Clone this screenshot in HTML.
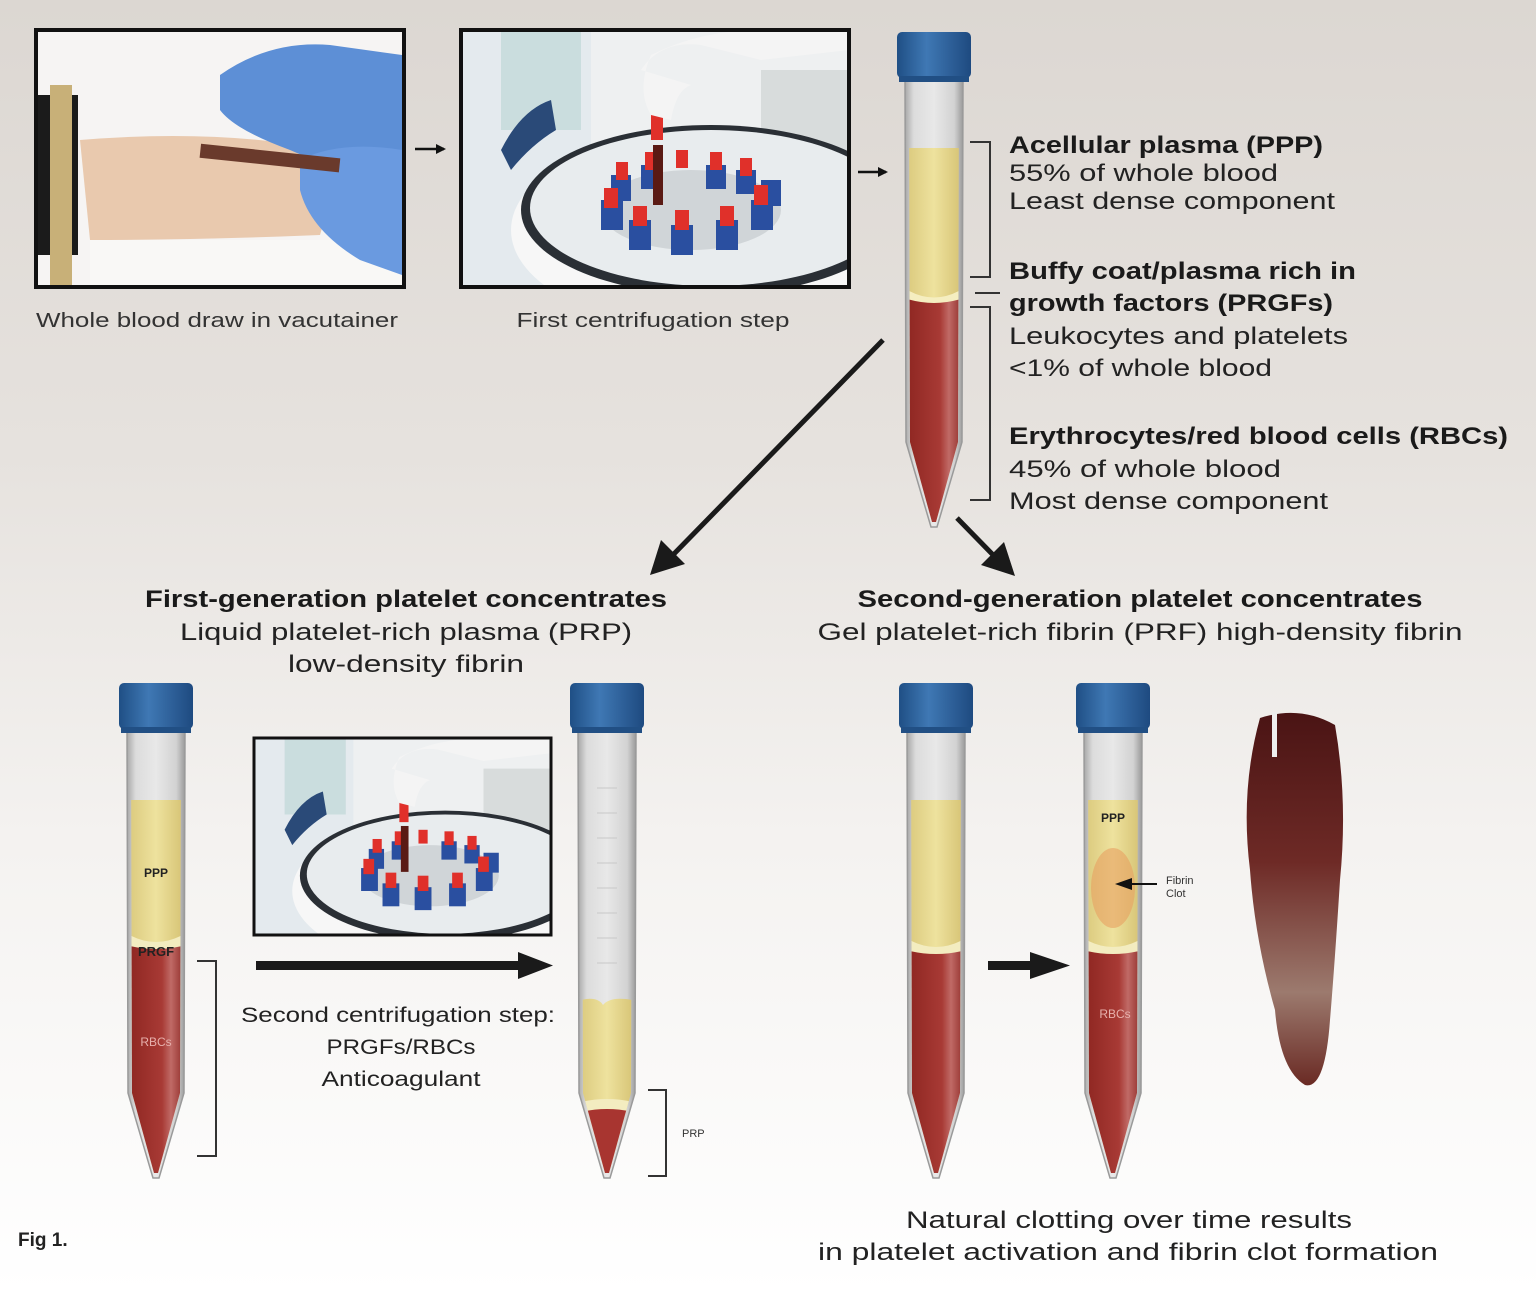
<!DOCTYPE html>
<html><head><meta charset="utf-8"><style>
html,body{margin:0;padding:0}
body{width:1536px;height:1292px;overflow:hidden;background:linear-gradient(#dcd7d2 0%,#e6e2de 35%,#f4f2f0 65%,#fff 100%);font-family:"Liberation Sans",sans-serif}
svg{position:absolute;left:0;top:0}
</style></head><body>
<svg width="1536" height="1292" viewBox="0 0 1536 1292" xmlns="http://www.w3.org/2000/svg">
<defs>
<clipPath id="inner" clipPathUnits="userSpaceOnUse"><path d="M-25,50 L25,50 L24,410 L2,490 L-2,490 L-24,410 Z"/></clipPath>
<clipPath id="pc" clipPathUnits="userSpaceOnUse"><rect width="388" height="257"/></clipPath>
<clipPath id="p1" clipPathUnits="userSpaceOnUse"><rect x="36" y="30" width="368" height="257"/></clipPath>
<linearGradient id="glass" x1="0" x2="1" y1="0" y2="0"><stop offset="0" stop-color="#a8a8a8"/><stop offset="0.15" stop-color="#dcdcdc"/><stop offset="0.5" stop-color="#e8e8e8"/><stop offset="0.85" stop-color="#d2d2d2"/><stop offset="1" stop-color="#9a9a9a"/></linearGradient>
<linearGradient id="cap" x1="0" x2="1"><stop offset="0" stop-color="#1f4f85"/><stop offset="0.4" stop-color="#3f78b4"/><stop offset="1" stop-color="#1e4a80"/></linearGradient>
<linearGradient id="yel" x1="0" x2="1"><stop offset="0" stop-color="#d9c77a"/><stop offset="0.5" stop-color="#eee29e"/><stop offset="1" stop-color="#d4c070"/></linearGradient>
<linearGradient id="red" x1="0" x2="1"><stop offset="0" stop-color="#8c2520"/><stop offset="0.6" stop-color="#a83a35"/><stop offset="0.75" stop-color="#c06a66"/><stop offset="1" stop-color="#8a2420"/></linearGradient>
<g id="tubebase">
<path d="M-29,48 L29,48 L28,410 L3,495 L-3,495 L-28,410 Z" fill="url(#glass)" stroke="#9a9a9a" stroke-width="1.5"/>
</g>
<g id="tubecap">
<rect x="-37" y="0" width="74" height="46" rx="5" fill="url(#cap)"/>
<rect x="-35" y="44" width="70" height="6" fill="#214f84"/>
</g>
<g id="centri"><g clip-path="url(#pc)">
<rect width="388" height="257" fill="#eef0f1"/>
<rect x="0" y="0" width="130" height="257" fill="#e4eaee"/>
<rect x="40" y="0" width="80" height="100" fill="#b9d3d3" opacity="0.6"/>
<rect x="300" y="40" width="88" height="130" fill="#d8dcdc"/>
<ellipse cx="250" cy="200" rx="200" ry="100" fill="#f7f7f7"/>
<ellipse cx="250" cy="180" rx="190" ry="85" fill="#2a2f35"/>
<ellipse cx="250" cy="178" rx="181" ry="78" fill="#e8ecee"/>
<path d="M40,120 Q60,80 90,70 L95,100 Q70,115 50,140Z" fill="#2a4a78"/>
<ellipse cx="230" cy="180" rx="90" ry="40" fill="#d0d5d8"/>
<g fill="#2a4fa0"><rect x="140" y="170" width="22" height="30"/><rect x="168" y="190" width="22" height="30"/><rect x="210" y="195" width="22" height="30"/><rect x="255" y="190" width="22" height="30"/><rect x="290" y="170" width="22" height="30"/><rect x="300" y="150" width="20" height="26"/><rect x="150" y="145" width="20" height="26"/><rect x="180" y="135" width="20" height="24"/><rect x="245" y="135" width="20" height="24"/><rect x="275" y="140" width="20" height="24"/></g>
<g fill="#e0302a"><rect x="143" y="158" width="14" height="20"/><rect x="172" y="176" width="14" height="20"/><rect x="214" y="180" width="14" height="20"/><rect x="259" y="176" width="14" height="20"/><rect x="293" y="155" width="14" height="20"/><rect x="184" y="122" width="12" height="18"/><rect x="249" y="122" width="12" height="18"/><rect x="279" y="128" width="12" height="18"/><rect x="215" y="120" width="12" height="18"/><rect x="155" y="132" width="12" height="18"/></g>
<rect x="192" y="115" width="10" height="60" fill="#5a1a14"/>
<rect x="190" y="80" width="12" height="30" fill="#e0302a"/>
<path d="M180,40 Q200,10 240,15 L300,30 L388,20 L388,0 L300,0 Q240,0 190,25 Q175,60 190,85 L210,90 Q215,60 230,55Z" fill="#f4f4f4"/>
</g></g>
<marker id="ah" markerWidth="10" markerHeight="10" refX="8" refY="5" orient="auto" markerUnits="userSpaceOnUse"><path d="M0,0 L10,5 L0,10Z" fill="#111"/></marker>
</defs>

<!-- photo 1 -->
<g clip-path="url(#p1)">
<rect x="36" y="30" width="368" height="257" fill="#f6f4f3"/>
<path d="M80,140 Q200,130 300,145 L330,200 L320,235 Q200,240 90,240Z" fill="#e9c9ae"/>
<rect x="90" y="240" width="312" height="45" fill="#f9f8f6"/>
<rect x="38" y="95" width="40" height="160" fill="#1b1b1b"/>
<rect x="50" y="85" width="22" height="200" fill="#c8b078"/>
<path d="M220,75 Q270,40 330,45 L402,55 L402,200 L360,180 L290,150 Q235,130 220,110Z" fill="#5d8fd6"/>
<path d="M300,160 Q340,140 402,150 L402,275 L360,260 Q310,230 300,190Z" fill="#6a9ae0"/>
<rect x="200" y="150" width="140" height="14" fill="#6a3a2c" transform="rotate(6 260 157)"/>
</g>
<rect x="36" y="30" width="368" height="257" fill="none" stroke="#111" stroke-width="4"/>
<!-- photo 2 -->
<use href="#centri" transform="translate(461,30)"/>
<rect x="461" y="30" width="388" height="257" fill="none" stroke="#111" stroke-width="4"/>
<!-- photo 3 -->
<use href="#centri" transform="translate(254,738) scale(0.765)"/>
<rect x="254" y="738" width="297" height="197" fill="none" stroke="#111" stroke-width="3"/>

<g font-family="Liberation Sans, sans-serif" fill="#333" lengthAdjust="spacingAndGlyphs">
<text x="217" y="327" font-size="20" text-anchor="middle" textLength="362" lengthAdjust="spacingAndGlyphs">Whole blood draw in vacutainer</text>
<text x="653" y="327" font-size="20" text-anchor="middle" textLength="273" lengthAdjust="spacingAndGlyphs">First centrifugation step</text>
</g>

<!-- small arrows -->
<line x1="415" y1="149" x2="444" y2="149" stroke="#111" stroke-width="2.5" marker-end="url(#ah)"/>
<line x1="858" y1="172" x2="886" y2="172" stroke="#111" stroke-width="2.5" marker-end="url(#ah)"/>

<!-- main tube -->
<g transform="translate(934,32)">
<use href="#tubebase"/>
<g clip-path="url(#inner)">
<rect x="-30" y="116" width="60" height="150" fill="url(#yel)"/>
<path d="M-30,256 Q0,275 30,256 L30,500 L-30,500Z" fill="#f5eec0"/>
<path d="M-30,266 Q0,276 30,266 L30,500 L-30,500Z" fill="url(#red)"/>
</g>
<use href="#tubecap"/>
</g>

<!-- brackets -->
<g stroke="#333" stroke-width="2" fill="none">
<path d="M970,142 H990 V277 H970"/>
<path d="M975,293 H1000"/>
<path d="M970,307 H990 V500 H970"/>
</g>
<g font-family="Liberation Sans, sans-serif" fill="#222" font-size="24">
<text x="1009" y="153" font-weight="bold" fill="#1a1a1a" textLength="314" lengthAdjust="spacingAndGlyphs">Acellular plasma (PPP)</text>
<text x="1009" y="181" textLength="269" lengthAdjust="spacingAndGlyphs">55% of whole blood</text>
<text x="1009" y="209" textLength="326" lengthAdjust="spacingAndGlyphs">Least dense component</text>
<text x="1009" y="279" font-weight="bold" fill="#1a1a1a" textLength="347" lengthAdjust="spacingAndGlyphs">Buffy coat/plasma rich in</text>
<text x="1009" y="311" font-weight="bold" fill="#1a1a1a" textLength="324" lengthAdjust="spacingAndGlyphs">growth factors (PRGFs)</text>
<text x="1009" y="344" textLength="339" lengthAdjust="spacingAndGlyphs">Leukocytes and platelets</text>
<text x="1009" y="376" textLength="263" lengthAdjust="spacingAndGlyphs">&lt;1% of whole blood</text>
<text x="1009" y="444" font-weight="bold" fill="#1a1a1a" textLength="499" lengthAdjust="spacingAndGlyphs">Erythrocytes/red blood cells (RBCs)</text>
<text x="1009" y="477" textLength="272" lengthAdjust="spacingAndGlyphs">45% of whole blood</text>
<text x="1009" y="509" textLength="319" lengthAdjust="spacingAndGlyphs">Most dense component</text>
</g>

<!-- big arrows -->
<line x1="883" y1="340" x2="668" y2="560" stroke="#1a1a1a" stroke-width="5"/>
<path d="M650,575 L661,540 L685,564Z" fill="#1a1a1a"/>
<line x1="957" y1="518" x2="998" y2="560" stroke="#1a1a1a" stroke-width="5"/>
<path d="M1015,576 L981,565 L1004,542Z" fill="#1a1a1a"/>

<g font-family="Liberation Sans, sans-serif" fill="#222" font-size="24" text-anchor="middle">
<text x="406" y="607" font-weight="bold" fill="#1a1a1a" textLength="522" lengthAdjust="spacingAndGlyphs">First-generation platelet concentrates</text>
<text x="406" y="640" textLength="452" lengthAdjust="spacingAndGlyphs">Liquid platelet-rich plasma (PRP)</text>
<text x="406" y="672" textLength="236" lengthAdjust="spacingAndGlyphs">low-density fibrin</text>
<text x="1140" y="607" font-weight="bold" fill="#1a1a1a" textLength="565" lengthAdjust="spacingAndGlyphs">Second-generation platelet concentrates</text>
<text x="1140" y="640" textLength="645" lengthAdjust="spacingAndGlyphs">Gel platelet-rich fibrin (PRF) high-density fibrin</text>
<text x="398" y="1022" font-size="21" textLength="314" lengthAdjust="spacingAndGlyphs">Second centrifugation step:</text>
<text x="401" y="1054" font-size="21" textLength="149" lengthAdjust="spacingAndGlyphs">PRGFs/RBCs</text>
<text x="401" y="1086" font-size="21" textLength="159" lengthAdjust="spacingAndGlyphs">Anticoagulant</text>
<text x="1129" y="1228" textLength="446" lengthAdjust="spacingAndGlyphs">Natural clotting over time results</text>
<text x="1128" y="1260" textLength="620" lengthAdjust="spacingAndGlyphs">in platelet activation and fibrin clot formation</text>
</g>

<!-- tube 1 -->
<g transform="translate(156,683)">
<use href="#tubebase"/>
<g clip-path="url(#inner)">
<rect x="-30" y="117" width="60" height="145" fill="url(#yel)"/>
<path d="M-30,250 Q0,268 30,250 L30,500 L-30,500Z" fill="#f3ecc0"/>
<path d="M-30,262 Q0,270 30,262 L30,500 L-30,500Z" fill="url(#red)"/>
</g>
<use href="#tubecap"/>
<text x="0" y="194" font-size="12" font-weight="bold" text-anchor="middle" fill="#222">PPP</text>
<text x="0" y="273" font-size="13" font-weight="bold" text-anchor="middle" fill="#222">PRGF</text>
<text x="0" y="363" font-size="12" text-anchor="middle" fill="#e7b0ac">RBCs</text>
</g>
<path d="M197,961 H216 V1156 H197" stroke="#333" stroke-width="2" fill="none"/>

<!-- arrow horizontal -->
<rect x="256" y="961" width="270" height="9" fill="#1a1a1a"/>
<path d="M518,952 L553,965.5 L518,979Z" fill="#1a1a1a"/>

<!-- tube 2 -->
<g transform="translate(607,683)">
<use href="#tubebase"/>
<g clip-path="url(#inner)">
<path d="M-30,318 Q-10,312 -4,322 Q4,312 30,318 L30,500 L-30,500Z" fill="url(#yel)"/>
<path d="M-30,420 Q0,412 30,420 L30,500 L-30,500Z" fill="#f3ecc0"/>
<path d="M-30,430 Q0,422 30,430 L30,500 L-30,500Z" fill="#a83530"/>
</g>
<g stroke="#c8c8c8" stroke-width="1">
<line x1="-10" y1="105" x2="10" y2="105"/><line x1="-10" y1="130" x2="10" y2="130"/><line x1="-10" y1="155" x2="10" y2="155"/><line x1="-10" y1="180" x2="10" y2="180"/><line x1="-10" y1="205" x2="10" y2="205"/><line x1="-10" y1="230" x2="10" y2="230"/><line x1="-10" y1="255" x2="10" y2="255"/><line x1="-10" y1="280" x2="10" y2="280"/>
</g>
<use href="#tubecap"/>
</g>
<path d="M648,1090 H666 V1176 H648" stroke="#333" stroke-width="2" fill="none"/>
<text x="682" y="1137" font-size="11" fill="#333" font-family="Liberation Sans, sans-serif">PRP</text>

<!-- tube 3 -->
<g transform="translate(936,683)">
<use href="#tubebase"/>
<g clip-path="url(#inner)">
<rect x="-30" y="117" width="60" height="150" fill="url(#yel)"/>
<path d="M-30,255 Q0,273 30,255 L30,500 L-30,500Z" fill="#f3ecc0"/>
<path d="M-30,267 Q0,275 30,267 L30,500 L-30,500Z" fill="url(#red)"/>
</g>
<use href="#tubecap"/>
</g>
<rect x="988" y="961" width="45" height="9" fill="#1a1a1a"/>
<path d="M1030,952 L1070,965.5 L1030,979Z" fill="#1a1a1a"/>

<!-- tube 4 -->
<g transform="translate(1113,683)">
<use href="#tubebase"/>
<g clip-path="url(#inner)">
<rect x="-30" y="117" width="60" height="150" fill="url(#yel)"/>
<ellipse cx="0" cy="205" rx="22" ry="40" fill="#e8a060" opacity="0.6"/>
<path d="M-30,255 Q0,273 30,255 L30,500 L-30,500Z" fill="#f3ecc0"/>
<path d="M-30,267 Q0,275 30,267 L30,500 L-30,500Z" fill="url(#red)"/>
</g>
<use href="#tubecap"/>
<text x="0" y="139" font-size="12" font-weight="bold" text-anchor="middle" fill="#222">PPP</text>
<text x="2" y="335" font-size="12" text-anchor="middle" fill="#e7b0ac">RBCs</text>
</g>
<line x1="1157" y1="884" x2="1125" y2="884" stroke="#111" stroke-width="2"/>
<path d="M1115,884 L1132,878 L1132,890Z" fill="#111"/>
<text x="1166" y="884" font-size="11" fill="#333" font-family="Liberation Sans, sans-serif">Fibrin</text>
<text x="1166" y="897" font-size="11" fill="#333" font-family="Liberation Sans, sans-serif">Clot</text>

<!-- clot -->
<defs><linearGradient id="clot" x1="0" y1="0" x2="0" y2="1"><stop offset="0" stop-color="#4a1414"/><stop offset="0.4" stop-color="#6e2a26"/><stop offset="0.75" stop-color="#9c7a6e"/><stop offset="1" stop-color="#6a2a24"/></linearGradient></defs>
<path d="M1260,718 Q1300,705 1335,725 Q1348,800 1340,880 Q1335,960 1330,1020 Q1325,1090 1305,1085 Q1280,1070 1275,1010 Q1255,940 1250,870 Q1240,790 1260,718Z" fill="url(#clot)"/>
<rect x="1272" y="712" width="5" height="45" fill="#eee"/>

<text x="18" y="1246" font-size="19" font-weight="bold" fill="#222" font-family="Liberation Sans, sans-serif">Fig 1.</text>
</svg>
</body></html>
